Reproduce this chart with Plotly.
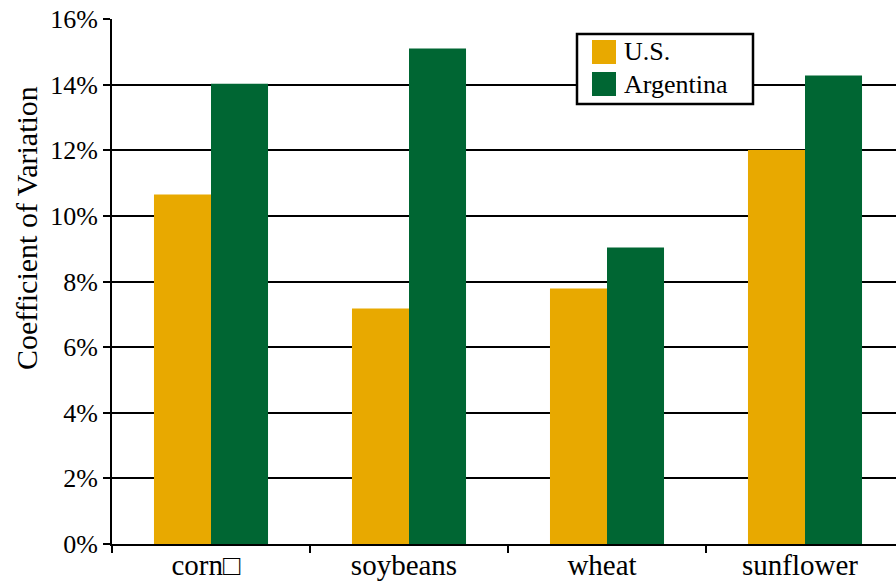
import plotly.graph_objects as go

categories = ["corn\u25a1", "soybeans", "wheat", "sunflower"]
us_values = [10.65, 7.18, 7.79, 12.01]
argentina_values = [14.03, 15.10, 9.04, 14.28]
series_names = ["U.S.", "Argentina"]
y_tick_values = [0, 2, 4, 6, 8, 10, 12, 14, 16]
y_tick_labels = [f"{v}%" for v in y_tick_values]

GOLD = "#E8A900"
GREEN = "#006633"
FONT = "Liberation Serif"

W, H = 896, 584
ML, MR, MT, MB = 112, 0, 19, 40
PW, PH = W - ML - MR, H - MT - MB


def px(x):
    return (x - ML) / PW


def py(y):
    return (H - MB - y) / PH


fig = go.Figure()
fig.add_trace(go.Bar(x=categories, y=us_values, name=series_names[0],
                     marker=dict(color=GOLD, line=dict(width=0)), showlegend=False))
fig.add_trace(go.Bar(x=categories, y=argentina_values, name=series_names[1],
                     marker=dict(color=GREEN, line=dict(width=0)), showlegend=False))

cat_px = 198.0
fig.update_layout(
    width=W, height=H,
    margin=dict(l=ML, r=MR, t=MT, b=MB, pad=0, autoexpand=False),
    paper_bgcolor="white", plot_bgcolor="white",
    barmode="group", bargap=0.424, bargroupgap=0,
    font=dict(family=FONT, size=26, color="black"),
    xaxis=dict(
        type="category", automargin=False,
        range=[-0.5, -0.5 + PW / cat_px],
        showline=True, linecolor="black", linewidth=2,
        ticks="outside", tickson="boundaries", ticklen=7, tickwidth=2, tickcolor="black",
        showgrid=False, zeroline=False,
        tickfont=dict(family=FONT, size=29, color="black"),
        ticklabelstandoff=-6, ticklabelshift=-5,
    ),
    yaxis=dict(
        range=[0, 16], automargin=False,
        tickvals=y_tick_values, ticktext=y_tick_labels,
        showline=True, linecolor="black", linewidth=2,
        ticks="outside", ticklen=7, tickwidth=2, tickcolor="black",
        showgrid=True, gridcolor="black", gridwidth=2,
        zeroline=False,
        tickfont=dict(family=FONT, size=26, color="black"),
        ticklabelstandoff=0,
    ),
)

# Y axis title
fig.add_annotation(text="Coefficient of Variation", textangle=-90,
                   x=px(27), y=py(228), xref="paper", yref="paper",
                   showarrow=False, font=dict(family=FONT, size=30, color="black"),
                   xanchor="center", yanchor="middle")

# Legend (drawn manually to match large swatches)
fig.add_shape(type="rect", xref="paper", yref="paper",
              x0=px(577), x1=px(753), y0=py(104), y1=py(34),
              line=dict(color="black", width=2.5), fillcolor="white", layer="above")
legend_colors = [GOLD, GREEN]
sw_tops = [40, 72]
for name, col, top in zip(series_names, legend_colors, sw_tops):
    fig.add_shape(type="rect", xref="paper", yref="paper",
                  x0=px(592), x1=px(616), y0=py(top + 24), y1=py(top),
                  line=dict(width=0), fillcolor=col, layer="above")
    fig.add_annotation(text=name, x=px(622), y=py(top + 12), xref="paper", yref="paper",
                       showarrow=False, xanchor="left", yanchor="middle",
                       font=dict(family=FONT, size=26, color="black"))

fig.write_html("out.html")
